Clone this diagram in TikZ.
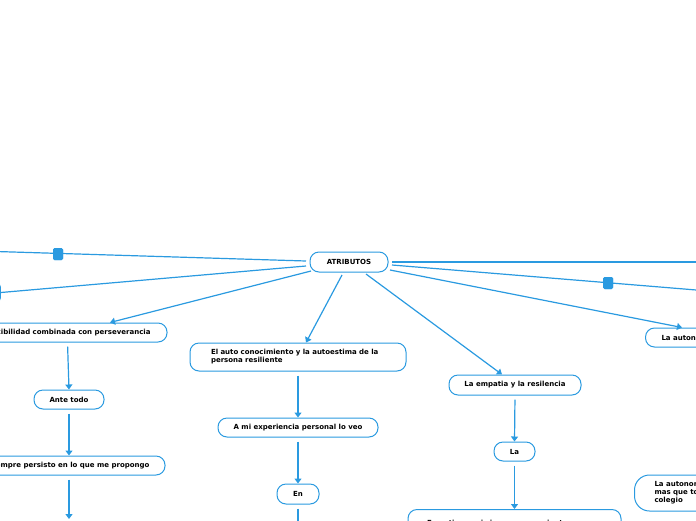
\documentclass[tikz,border=0pt]{standalone}
\usepackage{fontspec}
\setmainfont{DejaVu Sans}
\usetikzlibrary{arrows.meta,calc}
\definecolor{mmblue}{HTML}{2A9AE0}
\tikzset{
  box/.style={draw=mmblue, line width=1pt, fill=white, rounded corners=9pt,
    font=\fontsize{7}{8}\selectfont\bfseries, text=black, inner sep=0pt, minimum height=19pt},
  link/.style={draw=mmblue, line width=1.2pt},
  arr/.style={link, -{Triangle[width=7pt,length=5pt]}},
  marker/.style={fill=mmblue, draw=none, rounded corners=1.5pt, minimum width=10pt, minimum height=12pt, inner sep=0pt}
}
\begin{document}
\begin{tikzpicture}[x=1pt,y=-1pt]
\useasboundingbox (0,0) rectangle (696,520);
\clip (0,0) rectangle (696,520);
% central
\node[box, minimum width=78pt, minimum height=20pt] (atr) at (349,262) {ATRIBUTOS};
% left branch
\node[box, minimum width=199pt] (flex) at (67.5,332.5) {Flexibilidad combinada con perseverancia};
\node[box, minimum width=70pt] (ante) at (69,399.5) {Ante todo};
\node[box, minimum width=192pt] (siem) at (69,465.5) {Siempre persisto en lo que me propongo};
\coordinate (siemend) at (69,519);
% off-canvas left node
\node[box, minimum width=60pt, rounded corners=4pt] (offl) at (-29.6,292.5) {};
\coordinate (leftend) at (-20,251);
% middle branch
\node[box, minimum width=216pt, minimum height=28pt, text width=174pt, inner xsep=21pt, align=left] (auto) at (298,357) {El auto conocimiento y la autoestima de la persona resiliente};
\node[box, minimum width=160pt] (expe) at (298,427.5) {A mi experiencia personal lo veo};
\node[box, minimum width=42pt, minimum height=20pt] (en) at (298,494) {En};
\coordinate (enend) at (298,522);
% empathy branch
\node[box, minimum width=132pt, minimum height=20pt] (emp) at (515,385) {La empatia y la resilencia};
\node[box, minimum width=41pt] (la) at (514.5,451.5) {La};
\node[box, anchor=north, minimum width=213pt, minimum height=28pt, text width=175pt, inner xsep=19pt, inner ysep=5pt, align=left] (empm) at (514.5,509) {Empatia en mi siempre se ve,siento que};
% right branch
\node[box, anchor=west, inner xsep=16pt] (aut1) at (645,337.5) {La autonomia};
\node[box, anchor=west, minimum height=36pt, rounded corners=15pt, inner xsep=20pt, align=left] (aut2) at (634,493) {La autonomia\\mas que todo\\colegio};
\coordinate (rightend1) at (700,262);
\coordinate (rightend2) at (700,290.3);
% markers
\node[marker] (mk1) at (58,254) {};
\node[marker] (mk2) at (608,283) {};
% connectors from centre
\draw[link] ($(atr.center)+(-43,-1)$) -- (leftend);
\draw[link] ($(atr.center)+(-43,4)$) -- (offl.east);
\draw[arr] ($(atr.center)+(-38,9)$) -- ($(flex.north)+(42.5,0)$);
\draw[arr] ($(atr.center)+(-7,13)$) -- ($(auto.north)+(8,0)$);
\draw[arr] ($(atr.center)+(17,12)$) -- ($(emp.north)+(-13,0)$);
\draw[link] ($(atr.center)+(43,0)$) -- (rightend1);
\draw[link] ($(atr.center)+(43,3)$) -- (rightend2);
\draw[arr] ($(atr.center)+(41,8)$) -- ($(aut1.north west)+(37,0)$);
% redraw markers on top
\node[marker] at (mk1) {};
\node[marker] at (mk2) {};
% vertical chains
\draw[arr, shorten <=4pt] (flex.south) -- (ante.north);
\draw[arr, shorten <=4pt] (ante.south) -- (siem.north);
\draw[arr, shorten <=4pt] (siem.south) -- (siemend);
\draw[arr, shorten <=4pt] (auto.south) -- (expe.north);
\draw[arr, shorten <=4pt] (expe.south) -- (en.north);
\draw[link, shorten <=4pt] (en.south) -- (enend);
\draw[arr, shorten <=4pt] (emp.south) -- (la.north);
\draw[arr, shorten <=4pt] (la.south) -- (empm.north);
\end{tikzpicture}
\end{document}
